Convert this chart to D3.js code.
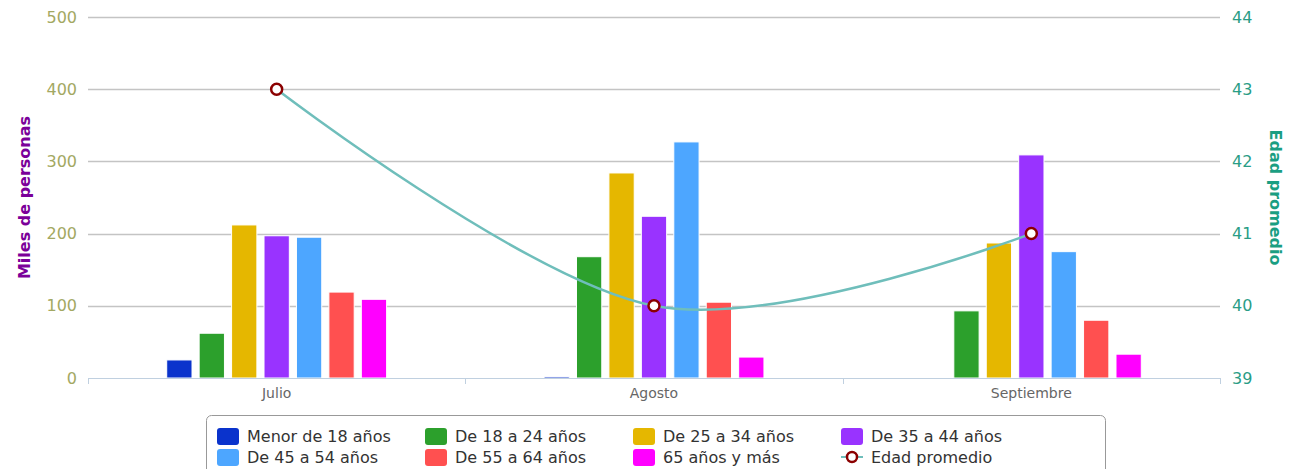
<!DOCTYPE html>
<html>
<head>
<meta charset="utf-8">
<script src="https://cdn.jsdelivr.net/npm/d3@7"></script>
<style>
  body { margin: 0; background: #fff; }
  svg text { font-family: "DejaVu Sans", sans-serif; }
</style>
</head>
<body>
<div id="chart"></div>
<script>
// chart data
const months = ['Julio', 'Agosto', 'Septiembre'];
const seriesNames = ['Menor de 18 años', 'De 18 a 24 años', 'De 25 a 34 años', 'De 35 a 44 años',
  'De 45 a 54 años', 'De 55 a 64 años', '65 años y más'];
const seriesColors = ['#0a33cc', '#2ca02c', '#e5b700', '#9933ff', '#4da6ff', '#ff5050', '#ff00ff'];
const seriesValues = [
  [25, 2, 0],
  [62, 168, 93],
  [212, 284, 187],
  [197, 224, 309],
  [195, 327, 175],
  [119, 105, 80],
  [109, 29, 33]
];
const edadPromedio = [43, 40, 41];
const leftTicks = [0, 100, 200, 300, 400, 500];
const rightTicks = [39, 40, 41, 42, 43, 44];

const width = 1301, height = 469;
const plot = { left: 88, right: 1220, top: 17, bottom: 378 };

const svg = d3.select('#chart').append('svg')
  .attr('width', width)
  .attr('height', height);

const x0 = d3.scaleBand().domain(months).range([plot.left, plot.right]);
const x1 = d3.scaleBand().domain(seriesNames)
  .range([x0.bandwidth() * 0.2, x0.bandwidth() * 0.8])
  .paddingInner(0.22).paddingOuter(0.1);
const yLeft = d3.scaleLinear().domain([0, 500]).range([plot.bottom, plot.top]);
const yRight = d3.scaleLinear().domain([39, 44]).range([plot.bottom, plot.top]);

// grid lines
svg.append('g').selectAll('line')
  .data(leftTicks.filter(t => t > 0))
  .join('line')
  .attr('x1', plot.left).attr('x2', plot.right)
  .attr('y1', d => Math.round(yLeft(d)) + 0.5).attr('y2', d => Math.round(yLeft(d)) + 0.5)
  .attr('stroke', '#c4c4c4').attr('stroke-width', 1.5);

// left axis labels
svg.append('g').selectAll('text')
  .data(leftTicks)
  .join('text')
  .attr('x', 77).attr('y', d => yLeft(d) + 5.5)
  .attr('text-anchor', 'end')
  .attr('font-size', 16)
  .attr('fill', '#a3a862')
  .text(d => d);

// right axis labels
svg.append('g').selectAll('text')
  .data(rightTicks)
  .join('text')
  .attr('x', 1232).attr('y', d => yRight(d) + 5.5)
  .attr('text-anchor', 'start')
  .attr('font-size', 16)
  .attr('fill', '#2a9d86')
  .text(d => d);

// axis titles
svg.append('text')
  .attr('transform', `translate(30,${(plot.top + plot.bottom) / 2}) rotate(-90)`)
  .attr('text-anchor', 'middle')
  .attr('font-size', 16).attr('font-weight', 'bold')
  .attr('fill', '#7b0099')
  .text('Miles de personas');

svg.append('text')
  .attr('transform', `translate(1270,${(plot.top + plot.bottom) / 2}) rotate(90)`)
  .attr('text-anchor', 'middle')
  .attr('font-size', 16).attr('font-weight', 'bold')
  .attr('fill', '#1a9e82')
  .text('Edad promedio');

// bars
const groups = svg.append('g').selectAll('g')
  .data(months)
  .join('g')
  .attr('transform', d => `translate(${x0(d)},0)`);

groups.selectAll('rect')
  .data((m, i) => seriesNames.map((s, j) => ({ series: s, color: seriesColors[j], value: seriesValues[j][i] })))
  .join('rect')
  .filter(d => d.value > 0)
  .attr('x', d => x1(d.series))
  .attr('width', x1.bandwidth())
  .attr('y', d => yLeft(d.value))
  .attr('height', d => yLeft(0) - yLeft(d.value))
  .attr('fill', d => d.color)
  .attr('stroke', '#fff').attr('stroke-width', 1);

// x axis
const xAxis = svg.append('g');
xAxis.append('line')
  .attr('x1', plot.left).attr('x2', plot.right)
  .attr('y1', plot.bottom + 0.5).attr('y2', plot.bottom + 0.5)
  .attr('stroke', '#c0d0e0');
xAxis.selectAll('line.tick')
  .data(months.map(m => x0(m)).concat([plot.right]))
  .join('line')
  .attr('class', 'tick')
  .attr('x1', d => Math.round(d) + 0.5).attr('x2', d => Math.round(d) + 0.5)
  .attr('y1', plot.bottom).attr('y2', plot.bottom + 6)
  .attr('stroke', '#c0d0e0');
xAxis.selectAll('text')
  .data(months)
  .join('text')
  .attr('x', d => x0(d) + x0.bandwidth() / 2)
  .attr('y', 398)
  .attr('text-anchor', 'middle')
  .attr('font-size', 14)
  .attr('fill', '#666')
  .text(d => d);

// edad promedio line
const lineGen = d3.line()
  .x((d, i) => x0(months[i]) + x0.bandwidth() / 2)
  .y(d => yRight(d))
  .curve(d3.curveCardinal.tension(0));

svg.append('path')
  .datum(edadPromedio)
  .attr('d', lineGen)
  .attr('fill', 'none')
  .attr('stroke', '#6fbebb')
  .attr('stroke-width', 2.5);

svg.append('g').selectAll('circle')
  .data(edadPromedio)
  .join('circle')
  .attr('cx', (d, i) => x0(months[i]) + x0.bandwidth() / 2)
  .attr('cy', d => yRight(d))
  .attr('r', 5.5)
  .attr('fill', '#fff')
  .attr('stroke', '#8b0000')
  .attr('stroke-width', 2.5);

// legend
const legend = svg.append('g');
legend.append('rect')
  .attr('x', 206.5).attr('y', 415.5)
  .attr('width', 899).attr('height', 70)
  .attr('rx', 5)
  .attr('fill', '#fff')
  .attr('stroke', '#999');

const legendItems = seriesNames.map((s, i) => ({ name: s, color: seriesColors[i], type: 'bar' }))
  .concat([{ name: 'Edad promedio', type: 'line' }]);

const items = legend.selectAll('g.item')
  .data(legendItems)
  .join('g')
  .attr('class', 'item')
  .attr('transform', (d, i) => `translate(${217 + (i % 4) * 208},${436 + Math.floor(i / 4) * 21})`);

items.filter(d => d.type === 'bar').append('rect')
  .attr('x', 0).attr('y', -8)
  .attr('width', 22).attr('height', 17)
  .attr('rx', 3)
  .attr('fill', d => d.color);

const lineItem = items.filter(d => d.type === 'line');
lineItem.append('line')
  .attr('x1', 0).attr('x2', 22).attr('y1', 0).attr('y2', 0)
  .attr('stroke', '#6fbebb').attr('stroke-width', 2);
lineItem.append('circle')
  .attr('cx', 11).attr('cy', 0).attr('r', 5)
  .attr('fill', '#fff').attr('stroke', '#8b0000').attr('stroke-width', 2.5);

items.append('text')
  .attr('x', 30).attr('y', 6)
  .attr('font-size', 16)
  .attr('fill', '#333')
  .text(d => d.name);
</script>
</body>
</html>
